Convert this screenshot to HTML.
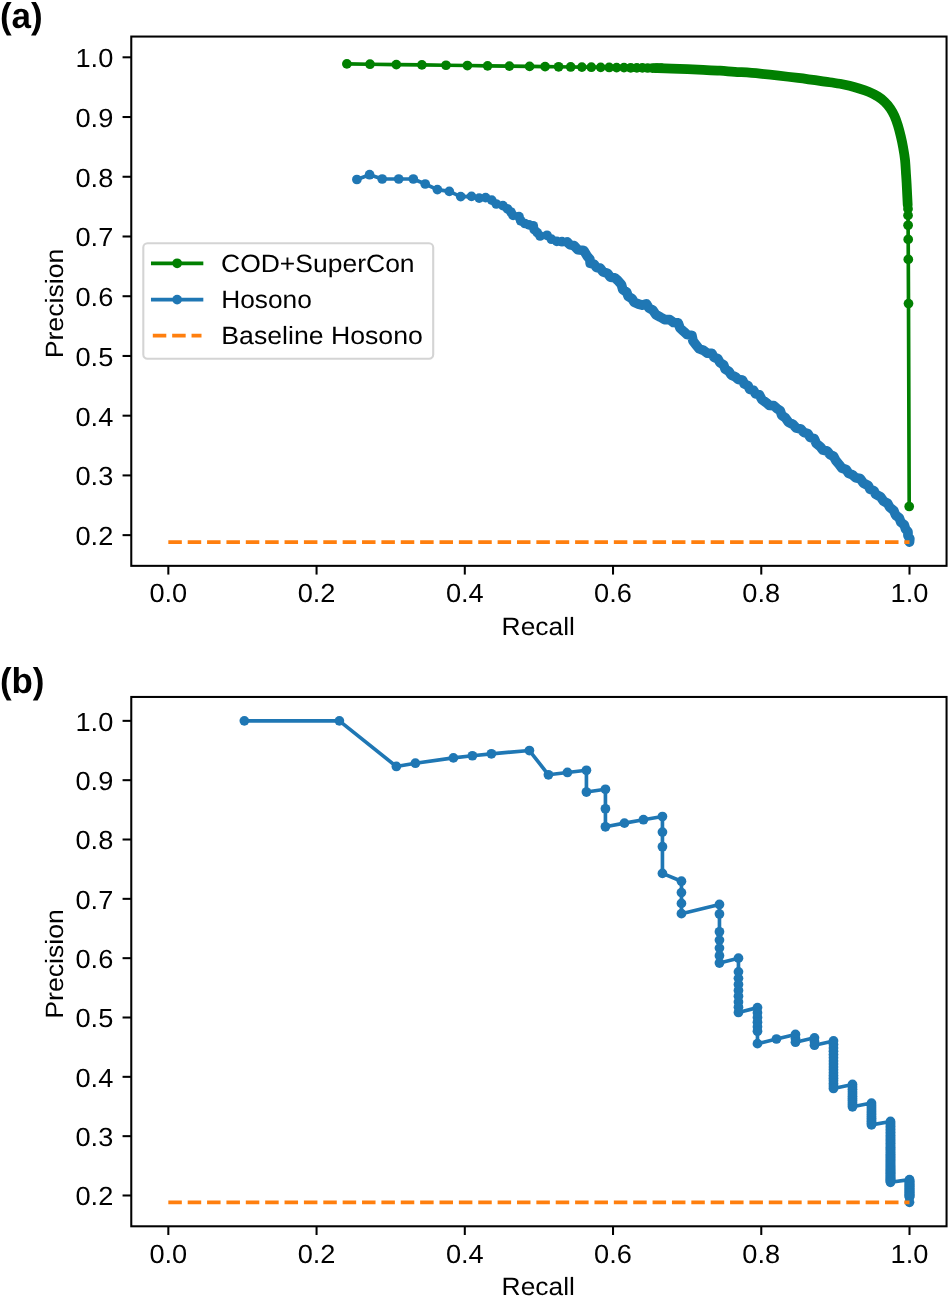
<!DOCTYPE html>
<html><head><meta charset="utf-8"><title>Precision-Recall curves</title>
<style>
html,body{margin:0;padding:0;background:#fff;}
body{width:949px;height:1297px;overflow:hidden;font-family:"Liberation Sans",sans-serif;}
svg{display:block;}
text{font-family:"Liberation Sans",sans-serif;text-rendering:geometricPrecision;}
</style></head><body>
<svg width="949" height="1297" viewBox="0 0 949 1297">
<rect width="949" height="1297" fill="#fff"/>
<g font-family="Liberation Sans, sans-serif" fill="#000" opacity="0.999">
<rect x="131.27" y="36.55" width="815.29" height="529.3" fill="#fff" stroke="#000" stroke-width="2.05"/>
<g stroke="#000" stroke-width="2.05"><line x1="168.33" y1="565.85" x2="168.33" y2="574.58"/><line x1="316.56" y1="565.85" x2="316.56" y2="574.58"/><line x1="464.8" y1="565.85" x2="464.8" y2="574.58"/><line x1="613.03" y1="565.85" x2="613.03" y2="574.58"/><line x1="761.27" y1="565.85" x2="761.27" y2="574.58"/><line x1="909.5" y1="565.85" x2="909.5" y2="574.58"/><line x1="122.55" y1="535.14" x2="131.27" y2="535.14"/><line x1="122.55" y1="475.41" x2="131.27" y2="475.41"/><line x1="122.55" y1="415.68" x2="131.27" y2="415.68"/><line x1="122.55" y1="355.95" x2="131.27" y2="355.95"/><line x1="122.55" y1="296.22" x2="131.27" y2="296.22"/><line x1="122.55" y1="236.49" x2="131.27" y2="236.49"/><line x1="122.55" y1="176.76" x2="131.27" y2="176.76"/><line x1="122.55" y1="117.03" x2="131.27" y2="117.03"/><line x1="122.55" y1="57.3" x2="131.27" y2="57.3"/></g>
<text x="149.43" y="602.05" font-size="26.2" textLength="37.8" lengthAdjust="spacingAndGlyphs">0.0</text>
<text x="297.66" y="602.05" font-size="26.2" textLength="37.8" lengthAdjust="spacingAndGlyphs">0.2</text>
<text x="445.9" y="602.05" font-size="26.2" textLength="37.8" lengthAdjust="spacingAndGlyphs">0.4</text>
<text x="594.13" y="602.05" font-size="26.2" textLength="37.8" lengthAdjust="spacingAndGlyphs">0.6</text>
<text x="742.37" y="602.05" font-size="26.2" textLength="37.8" lengthAdjust="spacingAndGlyphs">0.8</text>
<text x="890.6" y="602.05" font-size="26.2" textLength="37.8" lengthAdjust="spacingAndGlyphs">1.0</text>
<text x="75.47" y="545.04" font-size="26.2" textLength="37.8" lengthAdjust="spacingAndGlyphs">0.2</text>
<text x="75.47" y="485.31" font-size="26.2" textLength="37.8" lengthAdjust="spacingAndGlyphs">0.3</text>
<text x="75.47" y="425.58" font-size="26.2" textLength="37.8" lengthAdjust="spacingAndGlyphs">0.4</text>
<text x="75.47" y="365.85" font-size="26.2" textLength="37.8" lengthAdjust="spacingAndGlyphs">0.5</text>
<text x="75.47" y="306.12" font-size="26.2" textLength="37.8" lengthAdjust="spacingAndGlyphs">0.6</text>
<text x="75.47" y="246.39" font-size="26.2" textLength="37.8" lengthAdjust="spacingAndGlyphs">0.7</text>
<text x="75.47" y="186.66" font-size="26.2" textLength="37.8" lengthAdjust="spacingAndGlyphs">0.8</text>
<text x="75.47" y="126.93" font-size="26.2" textLength="37.8" lengthAdjust="spacingAndGlyphs">0.9</text>
<text x="75.47" y="67.2" font-size="26.2" textLength="37.8" lengthAdjust="spacingAndGlyphs">1.0</text>
<text x="501.6" y="635.3" font-size="25" textLength="73.3" lengthAdjust="spacingAndGlyphs">Recall</text>
<text x="62.7" y="358.33" font-size="25" textLength="109.66" lengthAdjust="spacingAndGlyphs" transform="rotate(-90 62.7 358.33)">Precision</text>
<text x="-0.1" y="28.3" font-size="36" textLength="42.8" lengthAdjust="spacingAndGlyphs" font-weight="bold">(a)</text>
<polyline points="346.9,63.9 370,64.21 396.3,64.57 421.9,64.92 446,65.25 467.4,65.54 487.6,65.82 509.4,66.12 529.6,66.39 545.1,66.6 558.6,66.79 570.7,66.95 581.9,67.1 591.3,67.23 600.7,67.36 609.2,67.48 616.6,67.58 624,67.68 630.7,67.77 636.8,67.85 642.4,67.93 647.61,68 652.45,68.06 656.96,68.13 661.14,68.18" fill="none" stroke="#008000" stroke-width="3.65" stroke-linejoin="round" stroke-linecap="round" />
<g fill="#008000"><circle cx="346.9" cy="63.9" r="4.87"/><circle cx="370" cy="64.21" r="4.87"/><circle cx="396.3" cy="64.57" r="4.87"/><circle cx="421.9" cy="64.92" r="4.87"/><circle cx="446" cy="65.25" r="4.87"/><circle cx="467.4" cy="65.54" r="4.87"/><circle cx="487.6" cy="65.82" r="4.87"/><circle cx="509.4" cy="66.12" r="4.87"/><circle cx="529.6" cy="66.39" r="4.87"/><circle cx="545.1" cy="66.6" r="4.87"/><circle cx="558.6" cy="66.79" r="4.87"/><circle cx="570.7" cy="66.95" r="4.87"/><circle cx="581.9" cy="67.1" r="4.87"/><circle cx="591.3" cy="67.23" r="4.87"/><circle cx="600.7" cy="67.36" r="4.87"/><circle cx="609.2" cy="67.48" r="4.87"/><circle cx="616.6" cy="67.58" r="4.87"/><circle cx="624" cy="67.68" r="4.87"/><circle cx="630.7" cy="67.77" r="4.87"/><circle cx="636.8" cy="67.85" r="4.87"/><circle cx="642.4" cy="67.93" r="4.87"/><circle cx="647.61" cy="68" r="4.87"/><circle cx="652.45" cy="68.06" r="4.87"/><circle cx="656.96" cy="68.13" r="4.87"/><circle cx="661.14" cy="68.18" r="4.87"/></g>
<path d="M655,68.1 C657.77,68.18 663.57,68.3 671.6,68.6 C679.63,68.9 695.13,69.55 703.2,69.9 C711.27,70.25 714.73,70.38 720,70.7 C725.27,71.02 728.13,71.32 734.8,71.8 C741.47,72.28 749.45,72.58 760,73.6 C770.55,74.62 786.48,76.45 798.1,77.9 C809.72,79.35 822.72,81.32 829.7,82.3 C836.68,83.28 836.7,83.22 840,83.8 C843.3,84.38 846.33,85.02 849.5,85.8 C852.67,86.58 855.83,87.5 859,88.5 C862.17,89.5 865.35,90.47 868.5,91.8 C871.65,93.13 875.22,94.85 877.9,96.5 C880.58,98.15 882.53,99.72 884.6,101.7 C886.67,103.68 888.65,106.02 890.3,108.4 C891.95,110.78 893.23,113.17 894.5,116 C895.77,118.83 896.87,122.08 897.9,125.4 C898.93,128.72 899.83,132.25 900.7,135.9 C901.57,139.55 902.38,143.35 903.1,147.3 C903.82,151.25 904.52,155.18 905,159.6 C905.48,164.02 905.73,169.9 906,173.8 C906.27,177.7 906.4,179.47 906.6,183 C906.8,186.53 907.02,191.33 907.2,195 C907.38,198.67 907.62,203.33 907.7,205" fill="none" stroke="#008000" stroke-width="9.74" stroke-linejoin="round" stroke-linecap="round"/>
<polyline points="907.7,205 908,208.9 908.05,215.4 908.1,225.3 908.2,239.4 908.3,259.4 908.5,303.6 909.2,506.5" fill="none" stroke="#008000" stroke-width="3.65" stroke-linejoin="round" stroke-linecap="round" />
<g fill="#008000"><circle cx="908" cy="208.9" r="4.87"/><circle cx="908.05" cy="215.4" r="4.87"/><circle cx="908.1" cy="225.3" r="4.87"/><circle cx="908.2" cy="239.4" r="4.87"/><circle cx="908.3" cy="259.4" r="4.87"/><circle cx="908.5" cy="303.6" r="4.87"/><circle cx="909.2" cy="506.5" r="4.87"/></g>
<polyline points="356.9,179.5 369.6,174.7 382.2,179 398.7,179 413.3,179 425.2,184 437.4,189.6 449.3,191.4 460.7,196.6 471.5,196.4 479.2,198.1 485.6,197.6 491.7,200.1 496.3,204 502.9,205.6 507.4,208.8 510.9,212 513.1,215.4 519,216.7 520.7,220.8 524.9,223.5 529,224.8 533.2,225.8 534.2,229.6 537.2,232.6 540.1,236 547,235.3 551.4,239.2 556.8,241.4 562,241.7 567.2,242.1" fill="none" stroke="#1f77b4" stroke-width="3.65" stroke-linejoin="round" stroke-linecap="round" />
<g fill="#1f77b4"><circle cx="356.9" cy="179.5" r="4.87"/><circle cx="369.6" cy="174.7" r="4.87"/><circle cx="382.2" cy="179" r="4.87"/><circle cx="398.7" cy="179" r="4.87"/><circle cx="413.3" cy="179" r="4.87"/><circle cx="425.2" cy="184" r="4.87"/><circle cx="437.4" cy="189.6" r="4.87"/><circle cx="449.3" cy="191.4" r="4.87"/><circle cx="460.7" cy="196.6" r="4.87"/><circle cx="471.5" cy="196.4" r="4.87"/><circle cx="479.2" cy="198.1" r="4.87"/><circle cx="485.6" cy="197.6" r="4.87"/><circle cx="491.7" cy="200.1" r="4.87"/><circle cx="496.3" cy="204" r="4.87"/><circle cx="502.9" cy="205.6" r="4.87"/><circle cx="507.4" cy="208.8" r="4.87"/><circle cx="510.9" cy="212" r="4.87"/><circle cx="513.1" cy="215.4" r="4.87"/><circle cx="519" cy="216.7" r="4.87"/><circle cx="520.7" cy="220.8" r="4.87"/><circle cx="524.9" cy="223.5" r="4.87"/><circle cx="529" cy="224.8" r="4.87"/><circle cx="533.2" cy="225.8" r="4.87"/><circle cx="534.2" cy="229.6" r="4.87"/><circle cx="537.2" cy="232.6" r="4.87"/><circle cx="540.1" cy="236" r="4.87"/><circle cx="547" cy="235.3" r="4.87"/><circle cx="551.4" cy="239.2" r="4.87"/><circle cx="556.8" cy="241.4" r="4.87"/><circle cx="562" cy="241.7" r="4.87"/><circle cx="567.2" cy="242.1" r="4.87"/></g>
<polyline points="567.2,242.1 569.97,244.69 573.81,245.43 577.74,249.63 583.81,250.49 587.26,256.26 589.88,259.27 590.21,263.36 594.15,264.23 596.45,267.47 600.21,268.13 603.01,271.97 607.59,273.43 610.34,277.23 614.64,277.72 617.83,280.49 621.34,284.39 622.83,289.71 626.67,292.1 628.23,296.4 632.02,298.72 634.3,302.3 638.27,303.97 642.2,305.15 646.4,303.88 648.95,308.05 653,310.3 655.82,314.63 660.39,317.09 664.62,319.57 669.72,319.69 673.5,322.49 678.15,322.9 679.93,327.95 683.66,331.47 687.12,334.56 691.89,335.52 693.02,340.99 696.29,345.23 699.11,348.74 703.55,350.35 707.21,353.05 711.85,353.4 713.93,357.23 717.97,358.87 719.9,362.6 723.63,364.87 725.17,369.13 728.92,371.42 731.2,375 735.17,376.67 738.24,379.52 742.48,380.12 744.24,383.9 748.06,385.6 749.69,389.29 753.47,390.29 755.53,393.71 759.24,394.65 761.86,399.56 766.32,402.72 769.31,405.44 773.69,405.56 776.82,408.39 780.33,410.8 781.67,415.2 785.33,417.73 788.44,422.14 793.28,424.68 796.21,428.05 800.79,428.95 803.77,432.36 807.82,433.64 810.18,437.36 814.24,438.65 816.32,443.51 820.34,446.75 822.85,450.03 827.15,450.97 829.76,454.35 833.6,456.4 835.7,460.3 839.36,464.78 842.01,468.19 846.25,469.65 848.46,473.15 852.27,474.67 855.62,477.76 860.19,478.62 863.44,483.14 868.28,485.68 870.07,489.27 873.93,490.73 875.7,494.3 880.56,496.86 883.72,501.32 887.6,503.4 889.7,507.3 893.68,510.49 895.66,515.25 899.28,517.99 900.86,522.25 904.25,524.92 905.55,529.04 907.94,531.74 908,535.45 909.79,538.56 909.5,542.1" fill="none" stroke="#1f77b4" stroke-width="9.74" stroke-linejoin="round" stroke-linecap="round" />
<line x1="168.33" y1="542.07" x2="909.5" y2="542.07" stroke="#ff7f0e" stroke-width="3.65" stroke-dasharray="13.5 5.87"/>
<rect x="143.3" y="243.2" width="289.9" height="115.5" rx="4.2" fill="#fff" fill-opacity="0.8" stroke="#ccc" stroke-opacity="0.85" stroke-width="2.1"/>
<line x1="152.8" y1="263.3" x2="201.5" y2="263.3" stroke="#008000" stroke-width="3.65" stroke-linecap="square"/>
<circle cx="177.15" cy="263.3" r="4.87" fill="#008000"/>
<line x1="152.8" y1="299.6" x2="201.5" y2="299.6" stroke="#1f77b4" stroke-width="3.65" stroke-linecap="square"/>
<circle cx="177.15" cy="299.6" r="4.87" fill="#1f77b4"/>
<line x1="152.8" y1="335.6" x2="201.5" y2="335.6" stroke="#ff7f0e" stroke-width="3.65" stroke-dasharray="13.5 5.87"/>
<text x="221" y="271.6" font-size="25" textLength="193.6" lengthAdjust="spacingAndGlyphs">COD+SuperCon</text>
<text x="221.2" y="308" font-size="25" textLength="90.6" lengthAdjust="spacingAndGlyphs">Hosono</text>
<text x="221.3" y="344.1" font-size="25" textLength="201.5" lengthAdjust="spacingAndGlyphs">Baseline Hosono</text>
<rect x="131.27" y="696.95" width="815.29" height="529.35" fill="#fff" stroke="#000" stroke-width="2.05"/>
<g stroke="#000" stroke-width="2.05"><line x1="168.33" y1="1226.3" x2="168.33" y2="1235.03"/><line x1="316.56" y1="1226.3" x2="316.56" y2="1235.03"/><line x1="464.8" y1="1226.3" x2="464.8" y2="1235.03"/><line x1="613.03" y1="1226.3" x2="613.03" y2="1235.03"/><line x1="761.27" y1="1226.3" x2="761.27" y2="1235.03"/><line x1="909.5" y1="1226.3" x2="909.5" y2="1235.03"/><line x1="122.55" y1="1195.49" x2="131.27" y2="1195.49"/><line x1="122.55" y1="1136.16" x2="131.27" y2="1136.16"/><line x1="122.55" y1="1076.83" x2="131.27" y2="1076.83"/><line x1="122.55" y1="1017.5" x2="131.27" y2="1017.5"/><line x1="122.55" y1="958.17" x2="131.27" y2="958.17"/><line x1="122.55" y1="898.84" x2="131.27" y2="898.84"/><line x1="122.55" y1="839.51" x2="131.27" y2="839.51"/><line x1="122.55" y1="780.18" x2="131.27" y2="780.18"/><line x1="122.55" y1="720.85" x2="131.27" y2="720.85"/></g>
<text x="149.43" y="1262.5" font-size="26.2" textLength="37.8" lengthAdjust="spacingAndGlyphs">0.0</text>
<text x="297.66" y="1262.5" font-size="26.2" textLength="37.8" lengthAdjust="spacingAndGlyphs">0.2</text>
<text x="445.9" y="1262.5" font-size="26.2" textLength="37.8" lengthAdjust="spacingAndGlyphs">0.4</text>
<text x="594.13" y="1262.5" font-size="26.2" textLength="37.8" lengthAdjust="spacingAndGlyphs">0.6</text>
<text x="742.37" y="1262.5" font-size="26.2" textLength="37.8" lengthAdjust="spacingAndGlyphs">0.8</text>
<text x="890.6" y="1262.5" font-size="26.2" textLength="37.8" lengthAdjust="spacingAndGlyphs">1.0</text>
<text x="75.47" y="1205.39" font-size="26.2" textLength="37.8" lengthAdjust="spacingAndGlyphs">0.2</text>
<text x="75.47" y="1146.06" font-size="26.2" textLength="37.8" lengthAdjust="spacingAndGlyphs">0.3</text>
<text x="75.47" y="1086.73" font-size="26.2" textLength="37.8" lengthAdjust="spacingAndGlyphs">0.4</text>
<text x="75.47" y="1027.4" font-size="26.2" textLength="37.8" lengthAdjust="spacingAndGlyphs">0.5</text>
<text x="75.47" y="968.07" font-size="26.2" textLength="37.8" lengthAdjust="spacingAndGlyphs">0.6</text>
<text x="75.47" y="908.74" font-size="26.2" textLength="37.8" lengthAdjust="spacingAndGlyphs">0.7</text>
<text x="75.47" y="849.41" font-size="26.2" textLength="37.8" lengthAdjust="spacingAndGlyphs">0.8</text>
<text x="75.47" y="790.08" font-size="26.2" textLength="37.8" lengthAdjust="spacingAndGlyphs">0.9</text>
<text x="75.47" y="730.75" font-size="26.2" textLength="37.8" lengthAdjust="spacingAndGlyphs">1.0</text>
<text x="501.6" y="1295.3" font-size="25" textLength="73.3" lengthAdjust="spacingAndGlyphs">Recall</text>
<text x="62.7" y="1018.75" font-size="25" textLength="109.66" lengthAdjust="spacingAndGlyphs" transform="rotate(-90 62.7 1018.75)">Precision</text>
<text x="-0.1" y="693.4" font-size="36" textLength="44.6" lengthAdjust="spacingAndGlyphs" font-weight="bold">(b)</text>
<polyline points="244.35,720.85 339.37,720.85 396.38,766.49 415.39,763.23 453.4,757.93 472.4,755.75 491.4,753.81 529.41,750.52 548.42,774.79 567.42,772.44 586.43,770.29 586.43,792.05 605.43,789.31 605.43,808.75 605.43,826.8 624.43,823.14 643.44,819.73 662.44,816.54 662.44,832.09 662.44,846.7 662.44,873.41 681.45,881.2 681.45,892.59 681.45,903.4 681.45,913.67 719.46,904.49 719.46,914.02 719.46,931.8 719.46,940.11 719.46,948.07 719.46,955.7 719.46,963.01 738.46,958.17 738.46,971.86 738.46,978.32 738.46,984.54 738.46,990.53 738.46,996.31 738.46,1001.89 738.46,1007.27 738.46,1012.47 757.47,1007.61 757.47,1012.64 757.47,1017.5 757.47,1022.21 757.47,1026.77 757.47,1031.19 757.47,1043.67 776.47,1039 795.47,1034.45 795.47,1038.39 795.47,1042.22 814.48,1037.82 814.48,1041.55 814.48,1045.19 833.48,1040.92 833.48,1044.47 833.48,1047.93 833.48,1051.3 833.48,1054.58 833.48,1057.79 833.48,1060.91 833.48,1063.96 833.48,1066.94 833.48,1069.85 833.48,1072.69 833.48,1075.47 833.48,1078.18 833.48,1080.83 833.48,1083.42 833.48,1085.96 833.48,1088.44 852.49,1084.49 852.49,1086.93 852.49,1089.32 852.49,1091.66 852.49,1093.96 852.49,1096.2 852.49,1098.4 852.49,1100.56 852.49,1102.68 852.49,1104.75 852.49,1106.78 871.49,1103.07 871.49,1105.08 871.49,1107.05 871.49,1108.99 871.49,1110.89 871.49,1112.75 871.49,1114.59 871.49,1116.38 871.49,1118.15 871.49,1119.88 871.49,1121.59 871.49,1123.26 871.49,1124.91 890.5,1121.45 890.5,1123.09 890.5,1124.69 890.5,1126.27 890.5,1127.82 890.5,1129.35 890.5,1130.85 890.5,1132.33 890.5,1133.79 890.5,1135.22 890.5,1136.63 890.5,1138.01 890.5,1139.38 890.5,1140.72 890.5,1142.05 890.5,1143.35 890.5,1144.64 890.5,1145.9 890.5,1147.15 890.5,1148.38 890.5,1149.59 890.5,1150.78 890.5,1151.95 890.5,1153.11 890.5,1154.25 890.5,1155.38 890.5,1156.49 890.5,1157.58 890.5,1158.66 890.5,1159.73 890.5,1160.78 890.5,1161.82 890.5,1162.84 890.5,1163.85 890.5,1164.84 890.5,1165.83 890.5,1166.79 890.5,1167.75 890.5,1168.7 890.5,1169.63 890.5,1170.55 890.5,1171.46 890.5,1172.36 890.5,1173.24 890.5,1174.12 890.5,1174.98 890.5,1175.83 890.5,1176.68 890.5,1177.51 890.5,1178.33 890.5,1179.15 890.5,1179.95 890.5,1180.75 890.5,1181.53 890.5,1182.31 909.5,1179.62 909.5,1180.4 909.5,1181.17 909.5,1181.93 909.5,1182.68 909.5,1183.42 909.5,1184.16 909.5,1184.88 909.5,1185.6 909.5,1186.31 909.5,1187.01 909.5,1187.71 909.5,1188.4 909.5,1189.08 909.5,1189.75 909.5,1190.41 909.5,1191.07 909.5,1191.72 909.5,1192.37 909.5,1193 909.5,1193.64 909.5,1194.26 909.5,1194.88 909.5,1195.49 909.5,1196.1 909.5,1196.69 909.5,1197.29 909.5,1202.37" fill="none" stroke="#1f77b4" stroke-width="3.65" stroke-linejoin="round" stroke-linecap="round" />
<g fill="#1f77b4"><circle cx="244.35" cy="720.85" r="4.87"/><circle cx="339.37" cy="720.85" r="4.87"/><circle cx="396.38" cy="766.49" r="4.87"/><circle cx="415.39" cy="763.23" r="4.87"/><circle cx="453.4" cy="757.93" r="4.87"/><circle cx="472.4" cy="755.75" r="4.87"/><circle cx="491.4" cy="753.81" r="4.87"/><circle cx="529.41" cy="750.52" r="4.87"/><circle cx="548.42" cy="774.79" r="4.87"/><circle cx="567.42" cy="772.44" r="4.87"/><circle cx="586.43" cy="770.29" r="4.87"/><circle cx="586.43" cy="792.05" r="4.87"/><circle cx="605.43" cy="789.31" r="4.87"/><circle cx="605.43" cy="808.75" r="4.87"/><circle cx="605.43" cy="826.8" r="4.87"/><circle cx="624.43" cy="823.14" r="4.87"/><circle cx="643.44" cy="819.73" r="4.87"/><circle cx="662.44" cy="816.54" r="4.87"/><circle cx="662.44" cy="832.09" r="4.87"/><circle cx="662.44" cy="846.7" r="4.87"/><circle cx="662.44" cy="873.41" r="4.87"/><circle cx="681.45" cy="881.2" r="4.87"/><circle cx="681.45" cy="892.59" r="4.87"/><circle cx="681.45" cy="903.4" r="4.87"/><circle cx="681.45" cy="913.67" r="4.87"/><circle cx="719.46" cy="904.49" r="4.87"/><circle cx="719.46" cy="914.02" r="4.87"/><circle cx="719.46" cy="931.8" r="4.87"/><circle cx="719.46" cy="940.11" r="4.87"/><circle cx="719.46" cy="948.07" r="4.87"/><circle cx="719.46" cy="955.7" r="4.87"/><circle cx="719.46" cy="963.01" r="4.87"/><circle cx="738.46" cy="958.17" r="4.87"/><circle cx="738.46" cy="971.86" r="4.87"/><circle cx="738.46" cy="978.32" r="4.87"/><circle cx="738.46" cy="984.54" r="4.87"/><circle cx="738.46" cy="990.53" r="4.87"/><circle cx="738.46" cy="996.31" r="4.87"/><circle cx="738.46" cy="1001.89" r="4.87"/><circle cx="738.46" cy="1007.27" r="4.87"/><circle cx="738.46" cy="1012.47" r="4.87"/><circle cx="757.47" cy="1007.61" r="4.87"/><circle cx="757.47" cy="1012.64" r="4.87"/><circle cx="757.47" cy="1017.5" r="4.87"/><circle cx="757.47" cy="1022.21" r="4.87"/><circle cx="757.47" cy="1026.77" r="4.87"/><circle cx="757.47" cy="1031.19" r="4.87"/><circle cx="757.47" cy="1043.67" r="4.87"/><circle cx="776.47" cy="1039" r="4.87"/><circle cx="795.47" cy="1034.45" r="4.87"/><circle cx="795.47" cy="1038.39" r="4.87"/><circle cx="795.47" cy="1042.22" r="4.87"/><circle cx="814.48" cy="1037.82" r="4.87"/><circle cx="814.48" cy="1041.55" r="4.87"/><circle cx="814.48" cy="1045.19" r="4.87"/><circle cx="833.48" cy="1040.92" r="4.87"/><circle cx="833.48" cy="1044.47" r="4.87"/><circle cx="833.48" cy="1047.93" r="4.87"/><circle cx="833.48" cy="1051.3" r="4.87"/><circle cx="833.48" cy="1054.58" r="4.87"/><circle cx="833.48" cy="1057.79" r="4.87"/><circle cx="833.48" cy="1060.91" r="4.87"/><circle cx="833.48" cy="1063.96" r="4.87"/><circle cx="833.48" cy="1066.94" r="4.87"/><circle cx="833.48" cy="1069.85" r="4.87"/><circle cx="833.48" cy="1072.69" r="4.87"/><circle cx="833.48" cy="1075.47" r="4.87"/><circle cx="833.48" cy="1078.18" r="4.87"/><circle cx="833.48" cy="1080.83" r="4.87"/><circle cx="833.48" cy="1083.42" r="4.87"/><circle cx="833.48" cy="1085.96" r="4.87"/><circle cx="833.48" cy="1088.44" r="4.87"/><circle cx="852.49" cy="1084.49" r="4.87"/><circle cx="852.49" cy="1086.93" r="4.87"/><circle cx="852.49" cy="1089.32" r="4.87"/><circle cx="852.49" cy="1091.66" r="4.87"/><circle cx="852.49" cy="1093.96" r="4.87"/><circle cx="852.49" cy="1096.2" r="4.87"/><circle cx="852.49" cy="1098.4" r="4.87"/><circle cx="852.49" cy="1100.56" r="4.87"/><circle cx="852.49" cy="1102.68" r="4.87"/><circle cx="852.49" cy="1104.75" r="4.87"/><circle cx="852.49" cy="1106.78" r="4.87"/><circle cx="871.49" cy="1103.07" r="4.87"/><circle cx="871.49" cy="1105.08" r="4.87"/><circle cx="871.49" cy="1107.05" r="4.87"/><circle cx="871.49" cy="1108.99" r="4.87"/><circle cx="871.49" cy="1110.89" r="4.87"/><circle cx="871.49" cy="1112.75" r="4.87"/><circle cx="871.49" cy="1114.59" r="4.87"/><circle cx="871.49" cy="1116.38" r="4.87"/><circle cx="871.49" cy="1118.15" r="4.87"/><circle cx="871.49" cy="1119.88" r="4.87"/><circle cx="871.49" cy="1121.59" r="4.87"/><circle cx="871.49" cy="1123.26" r="4.87"/><circle cx="871.49" cy="1124.91" r="4.87"/><circle cx="890.5" cy="1121.45" r="4.87"/><circle cx="890.5" cy="1123.09" r="4.87"/><circle cx="890.5" cy="1124.69" r="4.87"/><circle cx="890.5" cy="1126.27" r="4.87"/><circle cx="890.5" cy="1127.82" r="4.87"/><circle cx="890.5" cy="1129.35" r="4.87"/><circle cx="890.5" cy="1130.85" r="4.87"/><circle cx="890.5" cy="1132.33" r="4.87"/><circle cx="890.5" cy="1133.79" r="4.87"/><circle cx="890.5" cy="1135.22" r="4.87"/><circle cx="890.5" cy="1136.63" r="4.87"/><circle cx="890.5" cy="1138.01" r="4.87"/><circle cx="890.5" cy="1139.38" r="4.87"/><circle cx="890.5" cy="1140.72" r="4.87"/><circle cx="890.5" cy="1142.05" r="4.87"/><circle cx="890.5" cy="1143.35" r="4.87"/><circle cx="890.5" cy="1144.64" r="4.87"/><circle cx="890.5" cy="1145.9" r="4.87"/><circle cx="890.5" cy="1147.15" r="4.87"/><circle cx="890.5" cy="1148.38" r="4.87"/><circle cx="890.5" cy="1149.59" r="4.87"/><circle cx="890.5" cy="1150.78" r="4.87"/><circle cx="890.5" cy="1151.95" r="4.87"/><circle cx="890.5" cy="1153.11" r="4.87"/><circle cx="890.5" cy="1154.25" r="4.87"/><circle cx="890.5" cy="1155.38" r="4.87"/><circle cx="890.5" cy="1156.49" r="4.87"/><circle cx="890.5" cy="1157.58" r="4.87"/><circle cx="890.5" cy="1158.66" r="4.87"/><circle cx="890.5" cy="1159.73" r="4.87"/><circle cx="890.5" cy="1160.78" r="4.87"/><circle cx="890.5" cy="1161.82" r="4.87"/><circle cx="890.5" cy="1162.84" r="4.87"/><circle cx="890.5" cy="1163.85" r="4.87"/><circle cx="890.5" cy="1164.84" r="4.87"/><circle cx="890.5" cy="1165.83" r="4.87"/><circle cx="890.5" cy="1166.79" r="4.87"/><circle cx="890.5" cy="1167.75" r="4.87"/><circle cx="890.5" cy="1168.7" r="4.87"/><circle cx="890.5" cy="1169.63" r="4.87"/><circle cx="890.5" cy="1170.55" r="4.87"/><circle cx="890.5" cy="1171.46" r="4.87"/><circle cx="890.5" cy="1172.36" r="4.87"/><circle cx="890.5" cy="1173.24" r="4.87"/><circle cx="890.5" cy="1174.12" r="4.87"/><circle cx="890.5" cy="1174.98" r="4.87"/><circle cx="890.5" cy="1175.83" r="4.87"/><circle cx="890.5" cy="1176.68" r="4.87"/><circle cx="890.5" cy="1177.51" r="4.87"/><circle cx="890.5" cy="1178.33" r="4.87"/><circle cx="890.5" cy="1179.15" r="4.87"/><circle cx="890.5" cy="1179.95" r="4.87"/><circle cx="890.5" cy="1180.75" r="4.87"/><circle cx="890.5" cy="1181.53" r="4.87"/><circle cx="890.5" cy="1182.31" r="4.87"/><circle cx="909.5" cy="1179.62" r="4.87"/><circle cx="909.5" cy="1180.4" r="4.87"/><circle cx="909.5" cy="1181.17" r="4.87"/><circle cx="909.5" cy="1181.93" r="4.87"/><circle cx="909.5" cy="1182.68" r="4.87"/><circle cx="909.5" cy="1183.42" r="4.87"/><circle cx="909.5" cy="1184.16" r="4.87"/><circle cx="909.5" cy="1184.88" r="4.87"/><circle cx="909.5" cy="1185.6" r="4.87"/><circle cx="909.5" cy="1186.31" r="4.87"/><circle cx="909.5" cy="1187.01" r="4.87"/><circle cx="909.5" cy="1187.71" r="4.87"/><circle cx="909.5" cy="1188.4" r="4.87"/><circle cx="909.5" cy="1189.08" r="4.87"/><circle cx="909.5" cy="1189.75" r="4.87"/><circle cx="909.5" cy="1190.41" r="4.87"/><circle cx="909.5" cy="1191.07" r="4.87"/><circle cx="909.5" cy="1191.72" r="4.87"/><circle cx="909.5" cy="1192.37" r="4.87"/><circle cx="909.5" cy="1193" r="4.87"/><circle cx="909.5" cy="1193.64" r="4.87"/><circle cx="909.5" cy="1194.26" r="4.87"/><circle cx="909.5" cy="1194.88" r="4.87"/><circle cx="909.5" cy="1195.49" r="4.87"/><circle cx="909.5" cy="1196.1" r="4.87"/><circle cx="909.5" cy="1196.69" r="4.87"/><circle cx="909.5" cy="1197.29" r="4.87"/><circle cx="909.5" cy="1202.37" r="4.87"/></g>
<line x1="168.33" y1="1202.37" x2="909.5" y2="1202.37" stroke="#ff7f0e" stroke-width="3.65" stroke-dasharray="13.5 5.87"/>
</g>
</svg>
</body></html>
